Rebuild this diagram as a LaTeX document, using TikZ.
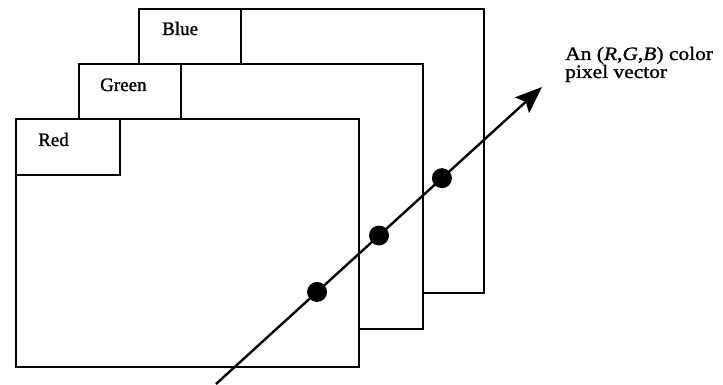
\documentclass[tikz,border=0pt]{standalone}
\usepackage{fontspec}
\setmainfont{Liberation Serif}
\newfontfamily\annfont{Liberation Serif}[FakeStretch=1.13,FakeBold=1.2]
\newfontfamily\labfont{Liberation Serif}[FakeBold=1.2]
\usetikzlibrary{arrows.meta,calc}
\tikzset{
  frame/.style={draw=black, line width=2.2pt, fill=white, inner sep=0pt, anchor=north west},
  tab/.style={draw=black, line width=2.2pt, fill=white, inner sep=0pt, anchor=north west},
  tablabel/.style={inner sep=0pt, anchor=base west, font=\labfont\fontsize{19}{22}\selectfont},
  annot/.style={inner sep=0pt, anchor=base west, font=\annfont\fontsize{19}{22}\selectfont},
  dot/.style={circle, fill=black, inner sep=0pt, minimum size=20pt},
  vec/.style={line width=2.4pt, -{Stealth[length=27pt,width=21pt,inset=5pt]}}
}
\begin{document}
\begin{tikzpicture}[x=1pt,y=-1pt]
\useasboundingbox (0,0) rectangle (723,385);
% Blue plane
\node[frame, minimum width=345pt, minimum height=284pt] (blue) at (138,8) {};
\node[tab, minimum width=102pt, minimum height=55pt] (bluetab) at (138,8) {};
\node[tablabel] (bluelab) at ($(bluetab.north west)+(24,27)$) {Blue};
% Green plane
\node[frame, minimum width=344pt, minimum height=265pt] (green) at (78,63) {};
\node[tab, minimum width=102pt, minimum height=55pt] (greentab) at (78,63) {};
\node[tablabel] (greenlab) at ($(greentab.north west)+(22,28)$) {Green};
% Red plane
\node[frame, minimum width=343pt, minimum height=248pt] (red) at (15,118) {};
\node[tab, minimum width=104pt, minimum height=56pt] (redtab) at (15,118) {};
\node[tablabel] (redlab) at ($(redtab.north west)+(23,28)$) {Red};
% Pixel vector
\coordinate (start) at (216,384);
\coordinate (tip) at (542,87);
\draw[vec] (start) -- (tip);
\node[dot] (d1) at ($(start)!0.31!(tip)$) {};
\node[dot] (d2) at ($(start)!0.50!(tip)$) {};
\node[dot] (d3) at ($(start)!0.693!(tip)$) {};
% Annotation
\node[annot] (ann1) at (565,60) {An (\textit{R},\textit{G},\textit{B}) color};
\node[annot] (ann2) at (565,78) {pixel vector};
\end{tikzpicture}
\end{document}
